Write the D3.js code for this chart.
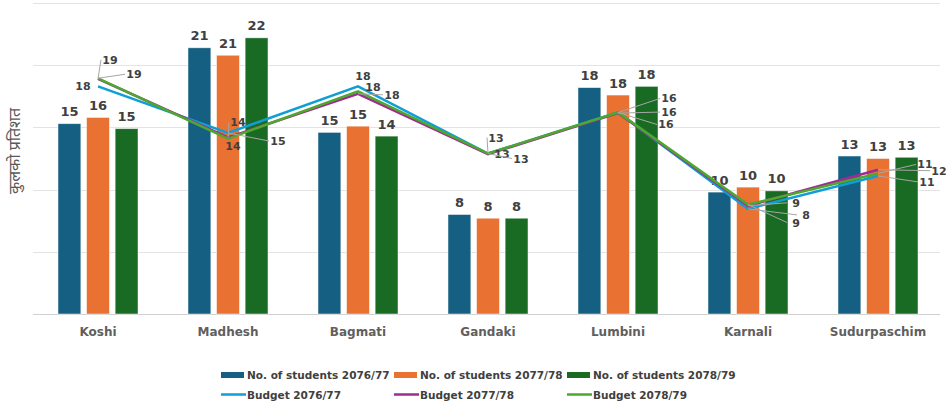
<!DOCTYPE html>
<html><head><meta charset="utf-8">
<script src="https://cdn.jsdelivr.net/npm/d3@7"></script>
<style>
html,body{margin:0;padding:0;background:#fff;}
svg{display:block;}
</style></head>
<body>
<svg id="chart" width="948" height="406"></svg>
<script>
const categories = ["Koshi","Madhesh","Bagmati","Gandaki","Lumbini","Karnali","Sudurpaschim"];
const students7677 = [15.3,21.4,14.6,8.0,18.2,9.8,12.7];
const students7778 = [15.8,20.8,15.1,7.7,17.6,10.2,12.5];
const students7879 = [14.9,22.2,14.3,7.7,18.3,9.9,12.6];
const budget7677 = [18.3,14.55,18.3,12.9,16.2,8.45,11.1];
const budget7778 = [18.9,14.2,17.7,12.85,16.15,8.7,11.6];
const budget7879 = [18.95,14.1,17.9,12.9,16.2,8.8,11.3];
const yTicks = [0,5,10,15,20,25];
const yTitle = "कुलको प्रतिशत";

const barSeries = [
  {name:"No. of students 2076/77", values:students7677, color:"#156082"},
  {name:"No. of students 2077/78", values:students7778, color:"#E97132"},
  {name:"No. of students 2078/79", values:students7879, color:"#196B24"}
];
const lineSeries = [
  {name:"Budget 2076/77", values:budget7677, color:"#0F9ED5"},
  {name:"Budget 2077/78", values:budget7778, color:"#A02B93"},
  {name:"Budget 2078/79", values:budget7879, color:"#4EA72E"}
];
// label placement offsets (layout only) [dx,dy] from the point, per line series per category
const lineLabelOffsets = [
  [[-15,0],[50,8],[5,-10],[8,-16],[51,-14],[58,6],[49,6]],
  [[12,-19],[10,-15],[34,1],[14,0],[51,-1],[48,-3],[61,1]],
  [[36,-4],[5,7],[15,-4],[33,5],[48,12],[48,18],[47,-9]]
];

const FONT = "DejaVu Sans, Verdana, sans-serif";
const svg = d3.select("#chart");
const y = d3.scaleLinear().domain([0,25]).range([314,3]);
const x = d3.scaleBand().domain(categories).range([33,943]);
const x1 = d3.scaleBand().domain([0,1,2]).range([x.bandwidth()/2-40, x.bandwidth()/2+40]).paddingInner(0.2);

// gridlines
svg.append("g").selectAll("line").data(yTicks).join("line")
  .attr("x1",33).attr("x2",940)
  .attr("y1",d=>Math.round(y(d))+0.5).attr("y2",d=>Math.round(y(d))+0.5)
  .attr("stroke",d=>d===0?"#d0d0d0":"#e3e3e3").attr("stroke-width",1);

// bars
barSeries.forEach((s,si)=>{
  const g = svg.append("g");
  g.selectAll("rect").data(s.values).join("rect")
    .attr("x",(d,i)=>x(categories[i])+x1(si))
    .attr("y",d=>y(d))
    .attr("width",x1.bandwidth())
    .attr("height",d=>y(0)-y(d))
    .attr("fill",s.color)
    .attr("stroke","#ffffff").attr("stroke-opacity",0.6).attr("stroke-width",0.8);
  g.selectAll("text").data(s.values).join("text")
    .attr("x",(d,i)=>x(categories[i])+x1(si)+x1.bandwidth()/2)
    .attr("y",d=>y(d)-7.5)
    .attr("text-anchor","middle")
    .attr("font-family",FONT)
    .attr("font-weight","bold").attr("font-size",13)
    .attr("fill","#404040")
    .text(d=>Math.round(d));
});

// lines
const cx = c => x(c)+x.bandwidth()/2;
lineSeries.forEach(s=>{
  const line = d3.line().x((d,i)=>cx(categories[i])).y(d=>y(d));
  svg.append("path").datum(s.values).attr("d",line)
    .attr("fill","none").attr("stroke",s.color).attr("stroke-width",2.5)
    .attr("stroke-linejoin","miter");
});

// line labels with leader lines
lineSeries.forEach((s,si)=>{
  s.values.forEach((v,i)=>{
    const px = cx(categories[i]), py = y(v);
    const [dx,dy] = lineLabelOffsets[si][i];
    const lx = px+dx, ly = py+dy;
    const dist = Math.hypot(dx,dy);
    if (dist>16){
      const ex = lx - Math.sign(dx)*9;
      svg.append("line").attr("x1",px).attr("y1",py).attr("x2",ex).attr("y2",ly)
        .attr("stroke","#a6a6a6").attr("stroke-width",1);
    }
    svg.append("text").attr("x",lx).attr("y",ly+4)
      .attr("text-anchor","middle")
      .attr("font-family",FONT)
      .attr("font-weight","bold").attr("font-size",11)
      .attr("fill","#404040")
      .text(Math.round(v));
  });
});

// x axis labels
svg.append("g").selectAll("text").data(categories).join("text")
  .attr("x",d=>cx(d)).attr("y",336)
  .attr("text-anchor","middle")
  .attr("font-family",FONT)
  .attr("font-weight","bold").attr("font-size",12)
  .attr("fill","#5f5f5f")
  .text(d=>d);

// y title
svg.append("text").attr("transform","translate(20,151) rotate(-90)")
  .attr("text-anchor","middle")
  .attr("font-family","Noto Sans Devanagari, Noto Sans, Lohit Devanagari, sans-serif")
  .attr("font-size",16).attr("fill","#595959")
  .text(yTitle);

// legend
const colX = [221,394,567];
barSeries.forEach((s,i)=>{
  svg.append("rect").attr("x",colX[i]).attr("y",372).attr("width",23).attr("height",6).attr("fill",s.color);
  svg.append("text").attr("x",colX[i]+26).attr("y",379)
    .attr("font-family",FONT).attr("font-weight","bold").attr("font-size",10.5)
    .attr("fill","#404040").text(s.name);
});
lineSeries.forEach((s,i)=>{
  svg.append("line").attr("x1",colX[i]).attr("x2",colX[i]+25).attr("y1",394.5).attr("y2",394.5)
    .attr("stroke",s.color).attr("stroke-width",2.5);
  svg.append("text").attr("x",colX[i]+26).attr("y",398.5)
    .attr("font-family",FONT).attr("font-weight","bold").attr("font-size",10.5)
    .attr("fill","#404040").text(s.name);
});
</script>
</body></html>
